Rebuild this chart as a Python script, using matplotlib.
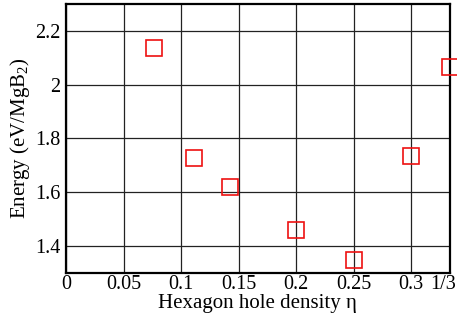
import matplotlib
matplotlib.use("Agg")
import matplotlib.pyplot as plt
import matplotlib.transforms as mtransforms

plt.rcParams['font.family'] = ['Liberation Serif', 'DejaVu Serif']
plt.rcParams['mathtext.fontset'] = 'custom'
plt.rcParams['mathtext.rm'] = 'Liberation Serif'

eta = [1/13, 1/9, 1/7, 0.2, 0.25, 0.3, 1/3]
energy = [2.135, 1.727, 1.620, 1.459, 1.346, 1.735, 2.067]
xticks = [0, 0.05, 0.1, 0.15, 0.2, 0.25, 0.3, 1/3]
xticklabels = ["0", "0.05", "0.1", "0.15", "0.2", "0.25", "0.3", "1/3"]
yticks = [1.4, 1.6, 1.8, 2.0, 2.2]
yticklabels = ["1.4", "1.6", "1.8", "2", "2.2"]

fig = plt.figure(figsize=(4.57, 3.21), dpi=100)
ax = fig.add_axes([0.1444, 0.1505, 0.8392, 0.837])
ax.plot(eta, energy, linestyle='none', marker='s', markersize=11.5,
        markerfacecolor='none', markeredgecolor='#ee1111', markeredgewidth=1.2,
        clip_on=False, zorder=5)
ax.set_xlim(0, 1/3)
ax.set_ylim(1.3, 2.3)
ax.set_xticks(xticks)
ax.set_xticklabels(xticklabels)
ax.set_yticks(yticks)
ax.set_yticklabels(yticklabels)
ax.grid(True, color='#222222', linewidth=0.9)
ax.tick_params(length=0, labelsize=14.5, pad=2)
ax.tick_params(axis='y', pad=4)
for s in ax.spines.values():
    s.set_linewidth(1.6)
last = ax.get_xticklabels()[-1]
last.set_transform(last.get_transform() + mtransforms.ScaledTranslation(-6/100, 0, fig.dpi_scale_trans))
ax.set_xlabel("Hexagon hole density η", fontsize=15, labelpad=0)
ax.set_ylabel("Energy (eV/MgB$_2$)", fontsize=15, labelpad=2)
fig.savefig("out.png", dpi=100)
